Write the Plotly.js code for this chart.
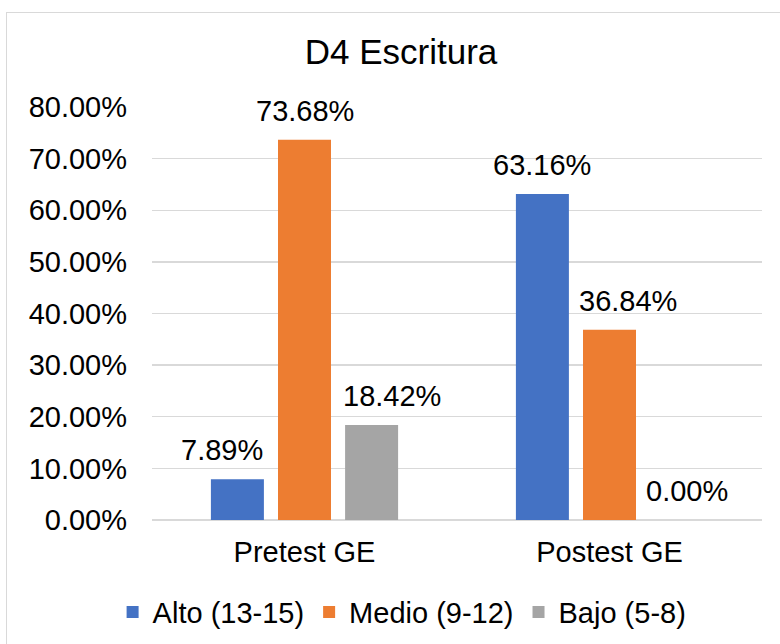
<!DOCTYPE html>
<html>
<head>
<meta charset="utf-8">
<script src="https://cdn.plot.ly/plotly-3.0.1.min.js"></script>
<style>
  html, body { margin: 0; padding: 0; background: #ffffff; }
  #frame { position: absolute; left: 6px; top: 12px; width: 780px; height: 640px;
           border-top: 1px solid #d9d9d9; border-left: 1px solid #d9d9d9; box-sizing: border-box; }
  #chart { position: absolute; left: 0; top: 0; width: 780px; height: 644px; }
</style>
</head>
<body>
<div id="frame"></div>
<div id="chart"></div>
<script>
const categories = ["Pretest GE", "Postest GE"];
const seriesNames = ["Alto (13-15)", "Medio (9-12)", "Bajo (5-8)"];
const alto = [0.0789, 0.6316];
const medio = [0.7368, 0.3684];
const bajo = [0.1842, 0.0];
const yTickVals = [0, 0.1, 0.2, 0.3, 0.4, 0.5, 0.6, 0.7, 0.8];

// style: horizontal nudges (px) of data labels, per series, per category
const labelNudgeX = [[-15, 0], [0, 18], [20, 10]];

const colors = ["#4472C4", "#ED7D31", "#A5A5A5"];
const font = "Arial, 'Liberation Sans', sans-serif";

const W = 780, H = 644;
const margin = { l: 152, r: 18, t: 107, b: 124, autoexpand: false };
const bargap = 0.34;
const seriesValues = [alto, medio, bajo];

// width of one bar slot inside a category group, derived from the layout
const plotW = W - margin.l - margin.r;
const slot = (plotW / categories.length) * (1 - bargap) / seriesValues.length;

const traces = seriesValues.map((vals, i) => ({
  type: "bar",
  name: seriesNames[i],
  x: categories,
  y: vals,
  marker: { color: colors[i] },
  hoverinfo: "none"
}));

const annotations = [];
seriesValues.forEach((vals, i) => {
  vals.forEach((v, j) => {
    annotations.push({
      x: categories[j], y: v, xref: "x", yref: "y",
      text: (v * 100).toFixed(2) + "%",
      showarrow: false,
      xanchor: "center", yanchor: "bottom",
      xshift: (i - (seriesValues.length - 1) / 2) * slot + labelNudgeX[i][j],
      yshift: 11,
      font: { family: font, size: 29, color: "#000000" }
    });
  });
});

const layout = {
  width: W,
  height: H,
  paper_bgcolor: "rgba(0,0,0,0)",
  plot_bgcolor: "rgba(0,0,0,0)",
  margin: margin,
  barmode: "group",
  bargap: bargap,
  bargroupgap: 0.21,
  font: { family: font, size: 29, color: "#000000" },
  title: {
    text: "D4 Escritura",
    font: { family: font, size: 35, color: "#000000" },
    x: 401 / 780, xref: "container", xanchor: "center",
    y: 1 - 52 / 644, yref: "container", yanchor: "middle"
  },
  xaxis: {
    type: "category",
    showgrid: false,
    showline: false,
    zeroline: false,
    ticks: "",
    ticklabelstandoff: 12,
    tickfont: { family: font, size: 29, color: "#000000" }
  },
  yaxis: {
    range: [0, 0.8],
    tickvals: yTickVals,
    tickformat: ".2%",
    showgrid: true,
    gridcolor: "#d9d9d9",
    gridwidth: 1.3,
    zeroline: true,
    zerolinecolor: "#d9d9d9",
    zerolinewidth: 1.3,
    showline: false,
    ticks: "",
    ticklabelstandoff: 24,
    tickfont: { family: font, size: 29, color: "#000000" }
  },
  annotations: annotations,
  showlegend: true,
  legend: {
    orientation: "h",
    x: 0.41, xanchor: "center",
    y: -0.223, yanchor: "middle",
    font: { family: font, size: 29, color: "#000000" },
    itemwidth: 30,
    traceorder: "normal"
  }
};

Plotly.newPlot("chart", traces, layout, { displayModeBar: false, staticPlot: true });
</script>
</body>
</html>
